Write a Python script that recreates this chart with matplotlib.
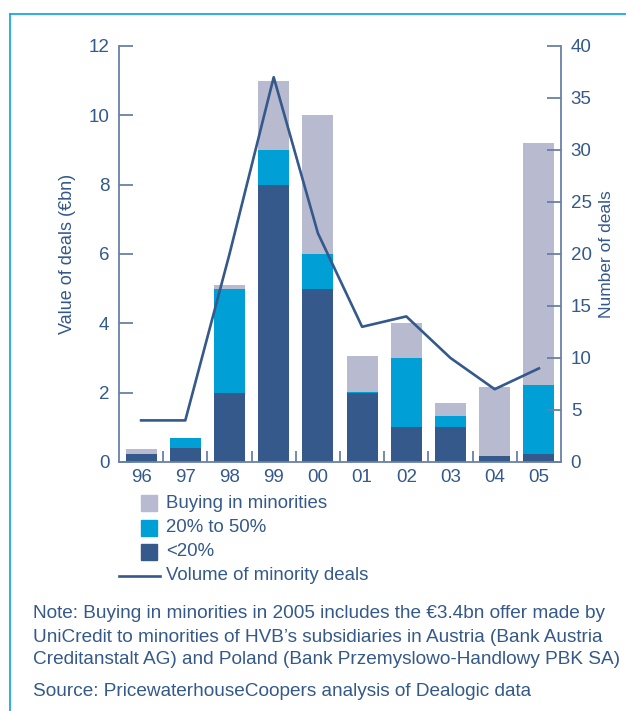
import matplotlib.pyplot as plt
from matplotlib.patches import Rectangle
from matplotlib.lines import Line2D

plt.rcParams['font.family'] = ['Liberation Sans', 'DejaVu Sans']

# DATA
years = ['96', '97', '98', '99', '00', '01', '02', '03', '04', '05']
under20 = [0.24, 0.41, 2.0, 8.0, 5.0, 2.0, 1.0, 1.0, 0.18, 0.24]
to50 = [0.0, 0.29, 3.0, 1.0, 1.0, 0.03, 2.0, 0.33, 0.0, 1.98]
buying = [0.14, 0.0, 0.1, 2.0, 4.0, 1.03, 1.0, 0.37, 1.99, 6.98]
deals = [4, 4, 20, 37, 22, 13, 14, 10, 7, 9]

# COLOURS
cDark = '#34598a'
cCyan = '#009fd6'
cGrey = '#b8bad0'
cText = '#34598a'
cSpine = '#6a80a8'
cFrame = '#1aa8e0'

fig = plt.figure(figsize=(6.26, 7.11), dpi=100)
ax = fig.add_axes([119 / 626, 1 - 462 / 711, (561 - 119) / 626, (462 - 46) / 711])
ax2 = ax.twinx()

x = range(len(years))
w = 0.7
bottom2 = [a + b for a, b in zip(under20, to50)]
ax.bar(x, under20, w, color=cDark, zorder=2)
ax.bar(x, to50, w, bottom=under20, color=cCyan, zorder=2)
ax.bar(x, buying, w, bottom=bottom2, color=cGrey, zorder=2)

ax2.plot(x, deals, color=cDark, lw=1.9, zorder=3)

# axes styling
ax.set_xlim(-0.5, 9.5)
ax.set_ylim(0, 12)
ax2.set_ylim(0, 40)
ax.set_yticks(range(0, 13, 2))
ax2.set_yticks(range(0, 41, 5))
ax.set_xticks(list(x))
ax.set_xticklabels(years)
ax.set_xticks([i + 0.5 for i in range(9)], minor=True)

for a in (ax, ax2):
    a.spines['top'].set_visible(False)
    for s in a.spines.values():
        s.set_color(cSpine)
        s.set_linewidth(1.3)
ax.spines['right'].set_visible(False)
ax2.spines['left'].set_visible(False)
ax2.spines['bottom'].set_visible(False)

fs = 13.5
ax.tick_params(axis='y', direction='in', length=10, width=1.3, color=cSpine,
               labelcolor=cText, labelsize=fs, pad=7)
ax2.tick_params(axis='y', direction='in', length=10, width=1.3, color=cSpine,
                labelcolor=cText, labelsize=fs, pad=7)
ax.tick_params(axis='x', which='major', length=0, labelcolor=cText, labelsize=fs, pad=5)
ax.tick_params(axis='x', which='minor', direction='in', length=8, width=1.3, color=cSpine)

ax.set_ylabel('Value of deals (€bn)', color=cText, fontsize=13, labelpad=9)
ax2.set_ylabel('Number of deals', color=cText, fontsize=12.5, labelpad=5)

# legend drawn by hand
legend_items = [('Buying in minorities', cGrey, 503),
                ('20% to 50%', cCyan, 528),
                ('<20%', cDark, 552)]
for label, col, yp in legend_items:
    fig.add_artist(Rectangle((141 / 626, 1 - (yp + 8) / 711), 16 / 626, 16 / 711,
                             color=col, transform=fig.transFigure))
    fig.text(166 / 626, 1 - yp / 711, label, color=cText, fontsize=13.4, va='center')
fig.add_artist(Line2D([119 / 626, 160 / 626], [1 - 576 / 711] * 2, color=cDark, lw=1.9,
                      transform=fig.transFigure))
fig.text(166 / 626, 1 - 576 / 711, 'Volume of minority deals', color=cText, fontsize=13.4,
         va='center')

# notes
notes = ['Note: Buying in minorities in 2005 includes the €3.4bn offer made by',
         'UniCredit to minorities of HVB’s subsidiaries in Austria (Bank Austria',
         'Creditanstalt AG) and Poland (Bank Przemyslowo-Handlowy PBK SA)']
for i, line in enumerate(notes):
    fig.text(33 / 626, 1 - (614 + 23 * i) / 711, line, color=cText, fontsize=13.7, va='center')
fig.text(33 / 626, 1 - 691 / 711, 'Source: PricewaterhouseCoopers analysis of Dealogic data',
         color=cText, fontsize=13.7, va='center')

# frame
fig.add_artist(Line2D([10 / 626, 10 / 626], [0, 1 - 14 / 711], color=cFrame, lw=1.3,
                      transform=fig.transFigure))
fig.add_artist(Line2D([10 / 626, 1], [1 - 14 / 711] * 2, color=cFrame, lw=1.3,
                      transform=fig.transFigure))

fig.savefig('out.png', dpi=100)
